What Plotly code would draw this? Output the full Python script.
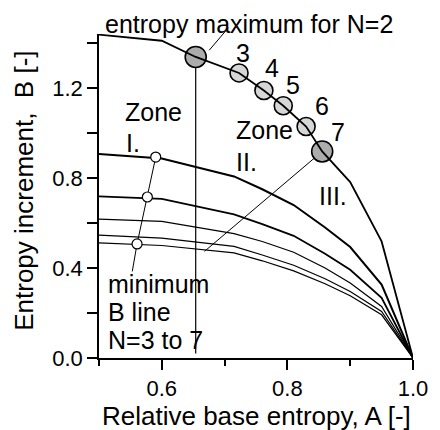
import plotly.graph_objects as go

# ---- data -------------------------------------------------------------
# Relative base entropy A at which the B curves are evaluated
A_grid = [0.5, 0.6, 0.715, 0.76, 0.81, 0.86, 0.9, 0.95, 1.0]

# Entropy increment B for N = 3 ... 7
B_N3 = [0.907, 0.887, 0.807, 0.750, 0.680, 0.580, 0.493, 0.326, 0.0]
B_N4 = [0.718, 0.707, 0.638, 0.595, 0.543, 0.463, 0.392, 0.267, 0.0]
B_N5 = [0.617, 0.607, 0.553, 0.518, 0.470, 0.400, 0.333, 0.229, 0.0]
B_N6 = [0.546, 0.533, 0.496, 0.458, 0.412, 0.352, 0.296, 0.207, 0.0]
B_N7 = [0.512, 0.500, 0.467, 0.432, 0.387, 0.330, 0.277, 0.192, 0.0]

# Envelope curve through the entropy maxima
A_top = [0.5, 0.6, 0.654, 0.723, 0.7626, 0.7934, 0.8298, 0.8554, 0.9, 0.95, 1.0]
B_top = [1.437, 1.410, 1.338, 1.267, 1.189, 1.121, 1.029, 0.918, 0.782, 0.518, 0.0]

# Entropy maxima for N = 2 ... 7
N_max = ["2", "3", "4", "5", "6", "7"]
A_max = [0.654, 0.723, 0.7626, 0.7934, 0.8298, 0.8554]
B_max = [1.338, 1.267, 1.189, 1.121, 1.029, 0.918]

# Minimum-B points and the line through them
A_min = [0.5903, 0.577, 0.5606]
B_min = [0.893, 0.7156, 0.507]
A_minline = [0.5903, 0.577, 0.5606, 0.553]
B_minline = [0.893, 0.7156, 0.507, 0.385]

# Zone boundary lines
A_zone1 = [0.654, 0.654]
B_zone1 = [1.338, 0.02]
A_zone3 = [0.8554, 0.668]
B_zone3 = [0.918, 0.474]

x_ticks = [0.6, 0.8, 1.0]
x_minor = [0.5, 0.7, 0.9]
y_ticks = [0.0, 0.4, 0.8, 1.2]
y_minor = [0.2, 0.6, 1.0, 1.4]

Y_MAX = 1.44
FONT = "Liberation Sans, Arial, Helvetica, sans-serif"

fig = go.Figure()

def line(x, y, w):
    fig.add_trace(go.Scatter(x=x, y=y, mode="lines",
                             line=dict(color="black", width=w),
                             hoverinfo="skip", showlegend=False))

# zone boundaries (under the markers)
line(A_zone1, B_zone1, 1.2)
line(A_zone3, B_zone3, 1.0)

# entropy maxima markers
big = [0, 5]
fig.add_trace(go.Scatter(
    x=[A_max[i] for i in range(len(A_max)) if i not in big],
    y=[B_max[i] for i in range(len(B_max)) if i not in big],
    mode="markers", cliponaxis=False,
    marker=dict(size=18, color="#d6d6d6", line=dict(color="black", width=1.6)),
    hoverinfo="skip", showlegend=False))
fig.add_trace(go.Scatter(
    x=[A_max[i] for i in big], y=[B_max[i] for i in big],
    mode="markers", cliponaxis=False,
    marker=dict(size=21, color="#acacac", line=dict(color="black", width=1.6)),
    hoverinfo="skip", showlegend=False))

# curves
line(A_top, B_top, 1.8)
line(A_grid, B_N3, 2.0)
line(A_grid, B_N4, 1.8)
line(A_grid, B_N5, 1.2)
line(A_grid, B_N6, 1.2)
line(A_grid, B_N7, 1.2)

# minimum-B line and points
line(A_minline, B_minline, 1.0)
fig.add_trace(go.Scatter(
    x=A_min, y=B_min, mode="markers",
    marker=dict(size=10, color="white", line=dict(color="black", width=1.2)),
    hoverinfo="skip", showlegend=False))

ann = []

def text(x, y, s, anchor="left", size=25, yref="y"):
    ann.append(dict(x=x, y=y, xref="x", yref=yref, text=s, showarrow=False,
                    xanchor=anchor, yanchor="middle",
                    font=dict(family=FONT, size=size, color="black")))

# label above the frame (paper units so it is not hidden)
text(0.5062, 1.484 / Y_MAX, "entropy maximum for N=2", yref="paper")
# labels next to the maxima (N = 3 ... 7)
label_pos = [(0.7289, 1.357), (0.7755, 1.288), (0.8091, 1.2147),
             (0.8545, 1.118), (0.8812, 1.0036)]
for (lx, ly), n in zip(label_pos, N_max[1:]):
    text(lx, ly, n, anchor="center")
text(0.5386, 1.0947, "Zone")
text(0.5401, 0.9556, "I.")
text(0.715, 1.0147, "Zone")
text(0.715, 0.870, "II.")
text(0.8472, 0.7213, "III.")
text(0.5119, 0.3284, "minimum")
text(0.5119, 0.2058, "B line")
text(0.5119, 0.080, "N=3 to 7")

# leader from the N=2 maximum to its label
ann.append(dict(x=0.7061, y=1.468, xref="x", yref="y", text="",
                showarrow=True, arrowhead=0, arrowwidth=1, arrowcolor="black",
                ax=0.6734, ay=1.361, axref="x", ayref="y"))

# axis titles
ann.append(dict(x=0.5, y=-0.18, xref="paper", yref="paper",
                text="Relative base entropy, A [-]", showarrow=False,
                xanchor="center", yanchor="middle",
                font=dict(family=FONT, size=26, color="black")))
ann.append(dict(x=-0.24, y=0.515, xref="paper", yref="paper",
                text="Entropy increment,  B [-]", showarrow=False,
                textangle=-90, xanchor="center", yanchor="middle",
                font=dict(family=FONT, size=26, color="black")))

fig.update_layout(
    width=440, height=430,
    margin=dict(l=99, r=17, t=34, b=72),
    paper_bgcolor="white", plot_bgcolor="white",
    annotations=ann,
    font=dict(family=FONT, color="black"),
)
fig.update_xaxes(
    range=[0.5, 1.0], showgrid=False, zeroline=False,
    showline=True, linecolor="black", linewidth=1.5,
    ticks="outside", ticklen=10, tickwidth=1.5, tickcolor="black",
    tickvals=x_ticks, tickformat=".1f",
    tickfont=dict(family=FONT, size=22, color="black"),
    minor=dict(tickvals=x_minor, ticks="outside", ticklen=6,
               tickwidth=1.5, tickcolor="black", showgrid=False),
)
fig.update_yaxes(
    range=[0.0, Y_MAX], showgrid=False, zeroline=False,
    showline=True, linecolor="black", linewidth=1.5,
    ticks="outside", ticklen=10, tickwidth=1.5, tickcolor="black",
    tickvals=y_ticks, tickformat=".1f",
    tickfont=dict(family=FONT, size=22, color="black"),
    minor=dict(tickvals=y_minor, ticks="outside", ticklen=10,
               tickwidth=1.5, tickcolor="black", showgrid=False),
)

fig.write_html("out.html")
